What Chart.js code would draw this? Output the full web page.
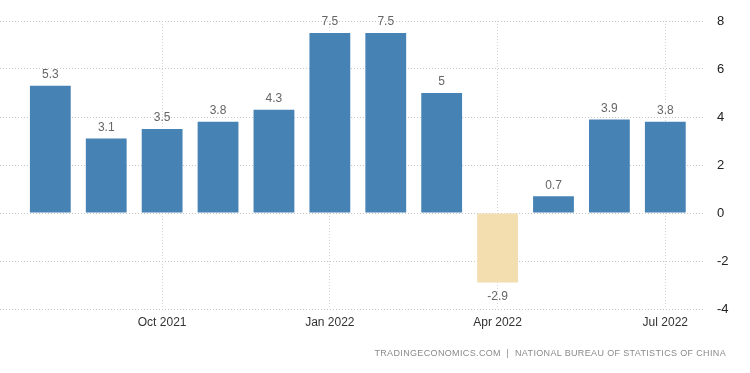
<!DOCTYPE html>
<html lang="en">
<head>
  <meta charset="UTF-8">
  <title>China Industrial Production</title>
  <script src="https://cdn.jsdelivr.net/npm/chart.js"></script>
  <style>
    body { margin: 0; background: #fff; }
    #wrap { position: relative; width: 750px; height: 373px; }
    #source {
      position: absolute; right: 24px; top: 348px;
      font-family: "Liberation Sans", Arial, sans-serif;
      font-size: 9px; letter-spacing: 0.35px; color: #8a8a8a;
    }
  </style>
</head>
<body>
  <div id="wrap">
    <canvas id="chart" width="750" height="373"></canvas>
    <div id="source">TRADINGECONOMICS.COM&nbsp;&nbsp;|&nbsp;&nbsp;NATIONAL BUREAU OF STATISTICS OF CHINA</div>
  </div>

  <script>
    // months from Aug 2021 to Jul 2022
    const months = ['Aug 2021', 'Sep 2021', 'Oct 2021', 'Nov 2021', 'Dec 2021', 'Jan 2022',
                    'Feb 2022', 'Mar 2022', 'Apr 2022', 'May 2022', 'Jun 2022', 'Jul 2022'];
    const values = [5.3, 3.1, 3.5, 3.8, 4.3, 7.5, 7.5, 5, -2.9, 0.7, 3.9, 3.8];
    // months that get a label on the x axis
    const labelledIdx = [2, 5, 8, 11];
    const yTicks = [8, 6, 4, 2, 0, -2, -4];

    const blue = '#4682b4';
    const sand = '#f3deb0';

    // value labels above (or below) each bar
    const valueLabels = {
      id: 'valueLabels',
      afterDatasetsDraw(chart) {
        const ctx = chart.ctx;
        const meta = chart.getDatasetMeta(0);
        ctx.save();
        ctx.font = '12px "Liberation Sans", Arial, sans-serif';
        ctx.fillStyle = '#666';
        ctx.textAlign = 'center';
        meta.data.forEach((bar, i) => {
          const v = values[i];
          if (v >= 0) {
            ctx.textBaseline = 'bottom';
            ctx.fillText(String(v), bar.x, bar.y - 5);
          } else {
            ctx.textBaseline = 'top';
            ctx.fillText(String(v), bar.x, bar.y + 8);
          }
        });
        ctx.restore();
      }
    };

    new Chart(document.getElementById('chart'), {
      type: 'bar',
      data: {
        datasets: [{
          data: values.map((v, i) => ({ x: i, y: v })),
          backgroundColor: values.map(v => v < 0 ? sand : blue),
          categoryPercentage: 1,
          barPercentage: 0.73
        }]
      },
      options: {
        responsive: false,
        animation: false,
        layout: { padding: { left: 0, right: 0, top: 21, bottom: 34 } },
        plugins: { legend: { display: false }, tooltip: { enabled: false } },
        scales: {
          x: {
            type: 'linear',
            offset: false,
            min: -0.9,
            max: 11.71,
            afterBuildTicks(scale) {
              scale.ticks = labelledIdx.map(i => ({ value: i }));
            },
            afterFit(scale) { scale.height = 30; },
            ticks: {
              autoSkip: false,
              maxRotation: 0,
              padding: 6,
              color: '#333',
              font: { family: '"Liberation Sans", Arial, sans-serif', size: 12 },
              callback: (v) => months[v] || ''
            },
            grid: {
              offset: false,
              color: '#d6d6d6',
              drawTicks: false
            },
            border: { display: false, dash: [1, 2] }
          },
          y: {
            position: 'right',
            min: -4,
            max: 8,
            afterBuildTicks(scale) {
              scale.ticks = yTicks.map(v => ({ value: v }));
            },
            afterFit(scale) { scale.width = 45; },
            ticks: {
              padding: 12,
              color: '#222',
              font: { family: '"Liberation Sans", Arial, sans-serif', size: 13 }
            },
            grid: {
              color: '#c8c8c8',
              drawTicks: false
            },
            border: { display: false, dash: [1, 2] }
          }
        }
      },
      plugins: [valueLabels]
    });
  </script>
</body>
</html>
